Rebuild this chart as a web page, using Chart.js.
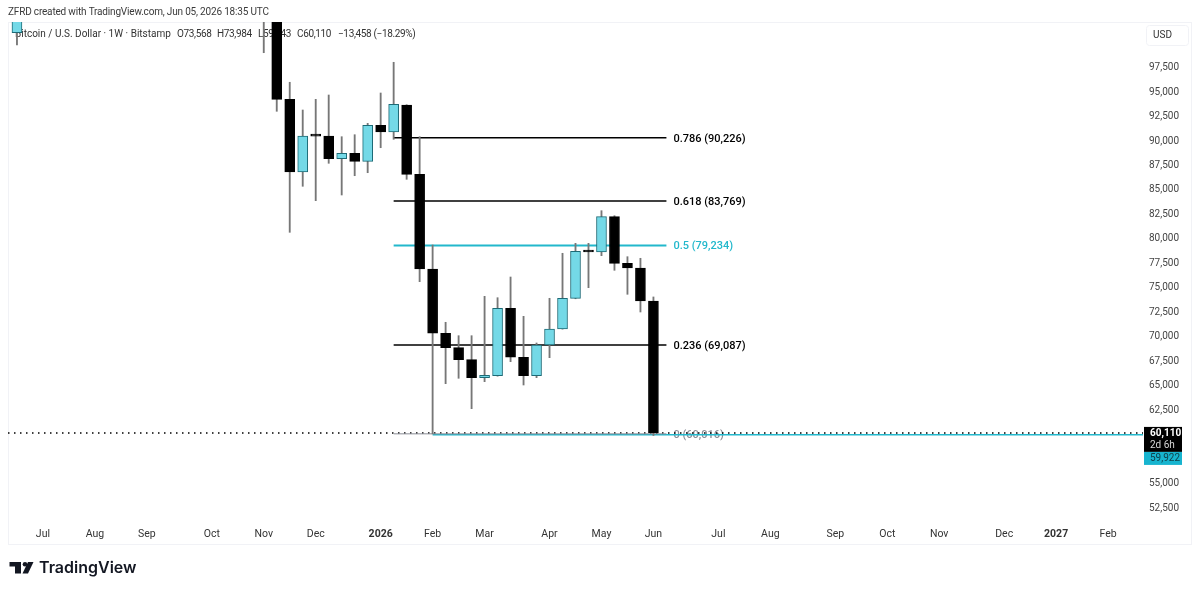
<!DOCTYPE html>
<html>
<head>
<meta charset="utf-8">
<title>BTC/USD 1W</title>
<script src="https://cdn.jsdelivr.net/npm/chart.js@4"></script>
<style>
  html, body { margin: 0; padding: 0; background: #fff; }
  canvas { display: block; }
</style>
</head>
<body>
<canvas id="chart" width="1200" height="592"></canvas>
<script>
// Weekly candles, x is the week number counted from the first bar on screen
const weeks  = [0, 19, 20, 21, 22, 23, 24, 25, 26, 27, 28, 29, 30, 31, 32, 33, 34, 35, 36, 37, 38, 39, 40, 41, 42, 43, 44, 45, 46, 47, 48, 49];
const opens  = [100950, 110000, 104500, 94150, 86735, 90408, 90396, 88092, 88643, 87827, 91500, 90816, 93571, 86500, 76837, 70276, 68806, 67582, 65745, 65950, 72827, 67827, 65949, 69082, 70714, 73847, 78643, 78570, 82173, 77418, 76939, 73568];
const highs  = [105000, 111000, 106000, 95890, 93061, 94153, 94592, 90337, 90541, 91704, 94796, 97929, 93600, 90337, 79286, 71398, 70031, 70031, 74051, 73908, 76020, 72010, 69286, 73847, 78439, 79459, 79459, 82786, 82276, 78092, 77929, 73984];
const lows   = [99690, 98908, 92929, 80580, 85276, 83806, 87622, 84388, 86357, 86663, 89214, 90071, 85990, 75541, 60016, 65133, 65684, 62582, 65337, 65900, 67378, 65000, 65745, 67786, 70700, 73800, 74929, 78194, 76704, 74255, 72449, 59843];
const closes = [104000, 104500, 94153, 86735, 90408, 90396, 88092, 88643, 87827, 91500, 90816, 93643, 86500, 76837, 70276, 68806, 67582, 65745, 65990, 72827, 67827, 65949, 69082, 70714, 73847, 78643, 78570, 82173, 77418, 76939, 73568, 60110];

// Fibonacci retracement levels
const fibRatios = ['0.786', '0.618', '0.5', '0.236', '0'];
const fibPrices = [90226, 83769, 79234, 69087, 60016];
const fibColors = ['#000000', '#000000', '#22b8cc', '#000000', '#8a8d96'];
const fibStart = 29;
const fibEnd = 50;

// Horizontal ray from the swing low and the last price line
const rayStart = 32;
const rayPrice = 59922;
const lastPrice = 60110;

// Axis labels
const priceTicks = [97500, 95000, 92500, 90000, 87500, 85000, 82500, 80000, 77500, 75000, 72500, 70000, 67500, 65000, 62500, 55000, 52500];
const monthWeeks = [2, 6, 10, 15, 19, 23, 28, 32, 36, 41, 45, 49, 54, 58, 63, 67, 71, 76, 80, 84];
const monthLabels = ['Jul', 'Aug', 'Sep', 'Oct', 'Nov', 'Dec', '2026', 'Feb', 'Mar', 'Apr', 'May', 'Jun', 'Jul', 'Aug', 'Sep', 'Oct', 'Nov', 'Dec', '2027', 'Feb'];

const UI_FONT = 'Roboto, sans-serif';
const fmt = n => n.toLocaleString('en-US');

const flatLine = (x0, x1, y) => [{ x: x0, y: y }, { x: x1, y: y }];

const xMin = -0.69;
const xMax = 86.69;

// Candle bodies first so they stay on top of the wicks and the lines
const datasets = [
  {
    label: 'body',
    data: weeks.map((w, i) => ({ x: w, y: [opens[i], closes[i]] })),
    backgroundColor: ctx => closes[ctx.dataIndex] > opens[ctx.dataIndex] ? '#74d9e7' : '#000000',
    borderColor: ctx => closes[ctx.dataIndex] > opens[ctx.dataIndex] ? '#1d6a76' : '#000000',
    borderWidth: 1,
    borderSkipped: false,
    barThickness: 10,
    minBarLength: 2,
    grouped: false
  },
  {
    label: 'wick',
    data: weeks.map((w, i) => ({ x: w, y: [lows[i], highs[i]] })),
    backgroundColor: '#777777',
    barThickness: 1.2,
    grouped: false
  }
];

fibPrices.forEach((p, i) => {
  datasets.push({
    type: 'line',
    label: fibRatios[i],
    data: flatLine(fibStart, fibEnd, p),
    borderColor: fibColors[i],
    borderWidth: i === 4 ? 1 : (i === 2 ? 2 : 1.6),
    pointRadius: 0
  });
});

datasets.push({
  type: 'line',
  label: 'ray',
  data: flatLine(rayStart, xMax, rayPrice),
  borderColor: '#22b8cc',
  borderWidth: 1.5,
  pointRadius: 0
});

datasets.push({
  type: 'line',
  label: 'last',
  data: flatLine(xMin, xMax, lastPrice),
  borderColor: '#000000',
  borderWidth: 1.5,
  borderDash: [1.5, 4.5],
  pointRadius: 0
});

// Text that sits under the candles: header, legend and fib labels
const underlay = {
  id: 'underlay',
  beforeDatasetsDraw(chart) {
    const { ctx, scales } = chart;
    ctx.save();
    ctx.textBaseline = 'middle';
    ctx.textAlign = 'left';

    ctx.strokeStyle = '#f1f2f6';
    ctx.lineWidth = 1;
    ctx.strokeRect(8.5, 22.5, 1183, 522);

    ctx.fillStyle = '#3a3a3a';
    ctx.font = '10px ' + UI_FONT;
    ctx.letterSpacing = '-0.18px';
    ctx.fillText('ZFRD created with TradingView.com, Jun 05, 2026 18:35 UTC', 8, 12.5);

    ctx.fillStyle = '#333';
    ctx.letterSpacing = '0px';
    ctx.fillText('Bitcoin / U.S. Dollar · 1W · Bitstamp', 15, 34.5);
    ctx.letterSpacing = '-0.35px';
    ctx.fillText('O73,568', 177, 34.5);
    ctx.fillText('H73,984', 217, 34.5);
    ctx.fillText('L59,843', 258, 34.5);
    ctx.fillText('C60,110', 297, 34.5);
    ctx.fillText('−13,458 (−18.29%)', 338, 34.5);
    ctx.letterSpacing = '0px';

    ctx.font = '500 11px ' + UI_FONT;
    fibPrices.forEach((p, i) => {
      ctx.fillStyle = fibColors[i];
      ctx.fillText(fibRatios[i] + ' (' + fmt(p) + ')', scales.x.getPixelForValue(fibEnd) + 7, scales.y.getPixelForValue(p) + 1);
    });
    ctx.restore();
  }
};

// Price tags, currency button and the logo go on top of everything
const overlay = {
  id: 'overlay',
  afterDraw(chart) {
    const { ctx, scales } = chart;
    const tagY = scales.y.getPixelForValue(lastPrice);
    ctx.save();
    ctx.textBaseline = 'middle';
    ctx.textAlign = 'left';

    ctx.fillStyle = '#000';
    ctx.fillRect(1144, tagY - 6, 38, 25);
    ctx.fillStyle = '#17b4cf';
    ctx.fillRect(1144, tagY + 19, 38, 13);
    ctx.font = '700 10px ' + UI_FONT;
    ctx.fillStyle = '#fff';
    ctx.fillText(fmt(lastPrice), 1150, tagY + 1);
    ctx.font = '10px ' + UI_FONT;
    ctx.fillStyle = '#d8d8d8';
    ctx.fillText('2d 6h', 1150, tagY + 12.5);
    ctx.fillStyle = '#10414b';
    ctx.fillText(fmt(rayPrice), 1150, tagY + 26);

    ctx.strokeStyle = '#f1f2f6';
    ctx.beginPath();
    ctx.roundRect(1146.5, 25.5, 42, 20, 3);
    ctx.stroke();
    ctx.fillStyle = '#333';
    ctx.font = '10px ' + UI_FONT;
    ctx.fillText('USD', 1153, 35.5);

    // logo mark
    ctx.fillStyle = '#131722';
    ctx.fillRect(9.5, 562, 11.5, 4.5);
    ctx.fillRect(15, 562, 6, 11.5);
    ctx.beginPath();
    ctx.arc(25, 564.2, 2.3, 0, Math.PI * 2);
    ctx.fill();
    ctx.beginPath();
    ctx.moveTo(28, 562);
    ctx.lineTo(33.5, 562);
    ctx.lineTo(28, 573.5);
    ctx.lineTo(22.5, 573.5);
    ctx.fill();
    ctx.font = '600 16px Inter, sans-serif';
    ctx.fillText('TradingView', 39, 568.5);
    ctx.restore();
  }
};

new Chart(document.getElementById('chart'), {
  type: 'bar',
  data: { datasets: datasets },
  plugins: [underlay, overlay],
  options: {
    responsive: false,
    animation: false,
    layout: { padding: { left: 8, top: 22, right: 10, bottom: 48 } },
    plugins: { legend: { display: false }, tooltip: { enabled: false } },
    scales: {
      x: {
        type: 'linear',
        offset: false,
        min: xMin,
        max: xMax,
        grid: { display: false, drawTicks: false },
        border: { display: false },
        afterBuildTicks(scale) { scale.ticks = monthWeeks.map(v => ({ value: v })); },
        afterFit(scale) { scale.height = 22; },
        ticks: {
          autoSkip: false,
          maxRotation: 0,
          padding: 6,
          color: '#333',
          font: ctx => ({
            family: UI_FONT,
            size: 10.5,
            weight: ctx.index === 6 || ctx.index === 18 ? 'bold' : 'normal'
          }),
          callback: (v, i) => monthLabels[i]
        }
      },
      y: {
        position: 'right',
        min: 51020,
        max: 102041,
        grid: { display: false, drawTicks: false },
        border: { display: false },
        afterBuildTicks(scale) { scale.ticks = priceTicks.map(v => ({ value: v })); },
        afterFit(scale) { scale.width = 47; },
        ticks: {
          autoSkip: false,
          padding: 6,
          labelOffset: 1,
          color: '#444',
          font: { family: UI_FONT, size: 10 },
          callback: v => fmt(v)
        }
      }
    }
  }
});
</script>
</body>
</html>
